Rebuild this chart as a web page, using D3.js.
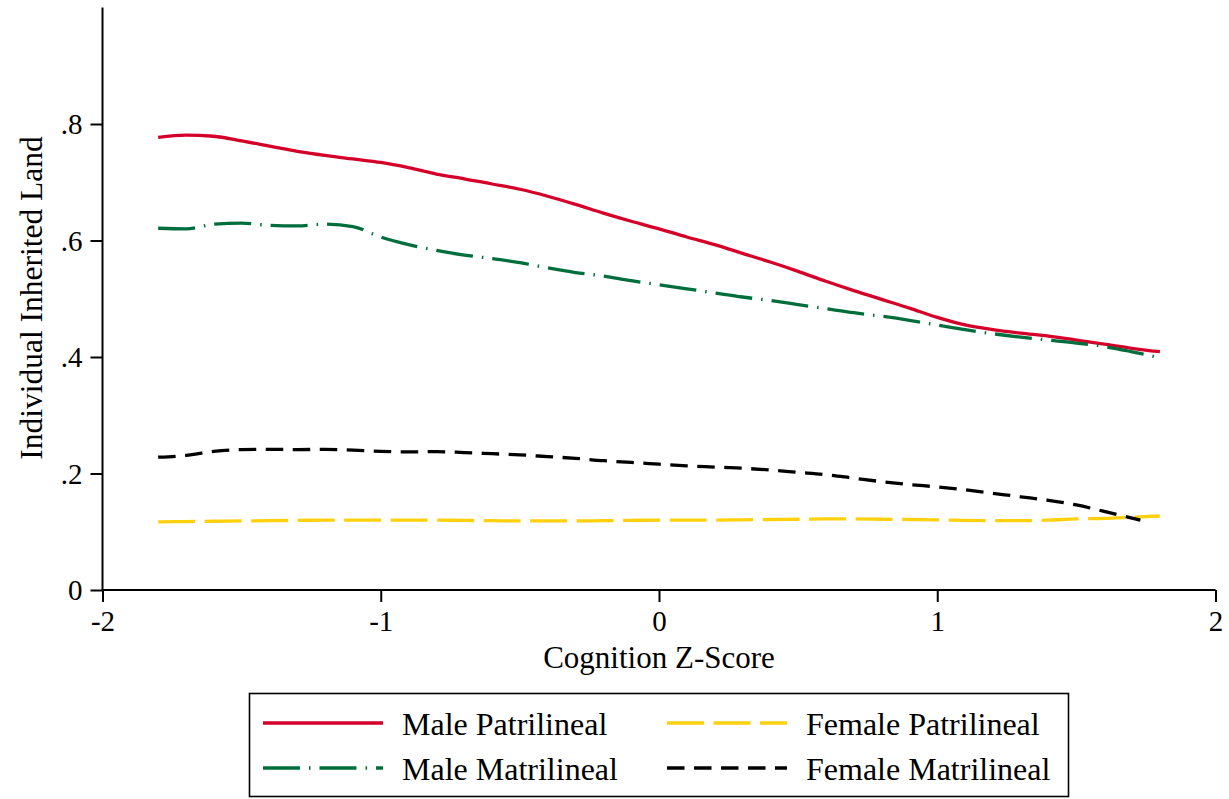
<!DOCTYPE html>
<html>
<head>
<meta charset="utf-8">
<script src="https://cdn.jsdelivr.net/npm/d3@7"></script>
<style>
  html, body { margin: 0; padding: 0; background: #fff; }
  svg { display: block; }
  text { font-family: "Liberation Serif", "Times New Roman", serif; fill: #000; }
</style>
</head>
<body>
<svg id="chart" width="1229" height="799"></svg>
<script>
// ---- Data ----
const zScores = [-1.8,-1.7,-1.6,-1.5,-1.4,-1.3,-1.2,-1.1,-1.0,-0.9,-0.8,-0.7,-0.6,-0.5,-0.4,-0.3,-0.2,-0.1,0,0.1,0.2,0.3,0.4,0.5,0.6,0.7,0.8,0.9,1.0,1.1,1.2,1.3,1.4,1.5,1.6,1.7,1.8];
const malePatrilineal = [0.777,0.781,0.779,0.771,0.762,0.753,0.746,0.740,0.734,0.725,0.714,0.706,0.697,0.688,0.676,0.662,0.647,0.633,0.620,0.606,0.593,0.578,0.563,0.547,0.530,0.514,0.499,0.484,0.468,0.455,0.447,0.441,0.436,0.429,0.422,0.415,0.409];
const maleMatrilinealX = [-1.8,-1.7,-1.6,-1.5,-1.4,-1.3,-1.2,-1.1,-1.0,-0.9,-0.8,-0.7,-0.6,-0.5,-0.4,-0.3,-0.2,-0.1,0,0.1,0.2,0.3,0.4,0.5,0.6,0.7,0.8,0.9,1.0,1.1,1.2,1.3,1.4,1.5,1.6,1.7,1.78];
const maleMatrilineal = [0.621,0.620,0.628,0.630,0.626,0.625,0.628,0.624,0.606,0.593,0.583,0.575,0.569,0.562,0.553,0.545,0.539,0.531,0.524,0.517,0.510,0.503,0.497,0.490,0.483,0.476,0.470,0.463,0.455,0.447,0.440,0.434,0.429,0.424,0.418,0.409,0.401];
const femalePatrilineal = [0.117,0.1175,0.118,0.1185,0.119,0.1195,0.120,0.120,0.120,0.120,0.120,0.1195,0.119,0.1185,0.1185,0.1185,0.119,0.1195,0.120,0.120,0.120,0.1205,0.121,0.1215,0.122,0.122,0.1215,0.121,0.1205,0.1195,0.119,0.119,0.120,0.122,0.123,0.125,0.127];
const femaleMatrilinealX = [-1.8,-1.7,-1.6,-1.5,-1.4,-1.3,-1.2,-1.1,-1.0,-0.9,-0.8,-0.7,-0.6,-0.5,-0.4,-0.3,-0.2,-0.1,0,0.1,0.2,0.3,0.4,0.5,0.6,0.7,0.8,0.9,1.0,1.1,1.2,1.3,1.4,1.5,1.6,1.73];
const femaleMatrilineal = [0.228,0.231,0.238,0.241,0.2415,0.241,0.2415,0.240,0.238,0.237,0.2375,0.236,0.234,0.232,0.229,0.226,0.222,0.219,0.216,0.213,0.211,0.209,0.206,0.202,0.198,0.192,0.186,0.181,0.177,0.172,0.166,0.160,0.154,0.146,0.135,0.120];

const xTicks = [-2,-1,0,1,2];
const yTicks = [0,0.2,0.4,0.6,0.8];
const xTitle = "Cognition Z-Score";
const yTitle = "Individual Inherited Land";

const seriesNames = ["Male Patrilineal","Female Patrilineal","Male Matrilineal","Female Matrilineal"];

// ---- Build series ----
const series = [
  {name: "Male Patrilineal", xs: zScores, ys: malePatrilineal, color: "#d4002a", dash: null},
  {name: "Male Matrilineal", xs: maleMatrilinealX, ys: maleMatrilineal, color: "#006e3c", dash: "37,9,1.5,9"},
  {name: "Female Patrilineal", xs: zScores, ys: femalePatrilineal, color: "#ffd10d", dash: "37,9.5"},
  {name: "Female Matrilineal", xs: femaleMatrilinealX, ys: femaleMatrilineal, color: "#000000", dash: "17.5,9.5"}
];
const byName = Object.fromEntries(series.map(s => [s.name, s]));

const svg = d3.select("#chart");
const x = d3.scaleLinear().domain([-2, 2]).range([102.5, 1215.5]);
const y = d3.scaleLinear().domain([0, 1]).range([590, 7.5]);

// Axes
const xAxis = d3.axisBottom(x).tickValues(xTicks).tickSize(12).tickPadding(6)
  .tickFormat(d => d3.format("d")(d).replace("−", "-"));
const yAxis = d3.axisLeft(y).tickValues(yTicks).tickSize(12).tickPadding(8)
  .tickFormat(d => d === 0 ? "0" : d3.format(".1f")(d).replace(/^0/, ""));

const gx = svg.append("g").attr("transform", "translate(0,590)").call(xAxis);
const gy = svg.append("g").attr("transform", "translate(102.5,0)").call(yAxis);
[gx, gy].forEach(g => {
  g.selectAll("path.domain").attr("stroke", "#000").attr("stroke-width", 2);
  g.selectAll(".tick line").attr("stroke", "#000").attr("stroke-width", 2);
  g.selectAll(".tick text").attr("font-size", 29).attr("font-family", "Liberation Serif").attr("fill", "#000");
});
gx.select("path.domain").attr("d", `M${x(-2)},0H${x(2)}`);
gy.select("path.domain").attr("d", `M0,${y(1)}V${y(0)}`);
gx.selectAll(".tick text").attr("dy", "0.78em");
gy.selectAll(".tick text").attr("dy", "0.34em");

// Titles
svg.append("text").attr("x", 659).attr("y", 668).attr("text-anchor", "middle")
  .attr("font-size", 31).text(xTitle);
svg.append("text").attr("transform", "translate(42,298) rotate(-90)")
  .attr("text-anchor", "middle").attr("font-size", 31.5).text(yTitle);

// Lines
const line = d3.line().curve(d3.curveMonotoneX).x(d => x(d[0])).y(d => y(d[1]));
const drawOrder = ["Female Patrilineal", "Female Matrilineal", "Male Matrilineal", "Male Patrilineal"];
// Draw in Stata order: Male Patrilineal first, then others on top
["Male Patrilineal", "Male Matrilineal", "Female Patrilineal", "Female Matrilineal"].forEach(n => {
  const s = byName[n];
  const pts = s.xs.map((xv, i) => [xv, s.ys[i]]);
  svg.append("path").datum(pts)
    .attr("d", line)
    .attr("fill", "none")
    .attr("stroke", s.color)
    .attr("stroke-width", 3.3)
    .attr("stroke-linecap", "butt")
    .attr("stroke-linejoin", "round")
    .attr("stroke-dasharray", s.dash);
});

// Legend
const lg = svg.append("g");
lg.append("rect").attr("x", 249.5).attr("y", 693.5).attr("width", 819).attr("height", 103)
  .attr("fill", "#fff").attr("stroke", "#000").attr("stroke-width", 1.6);
const cols = [263, 667];
const rows = [723, 768];
seriesNames.forEach((n, i) => {
  const s = byName[n];
  const cx = cols[i % 2], cy = rows[Math.floor(i / 2)];
  lg.append("line").attr("x1", cx).attr("x2", cx + 120).attr("y1", cy).attr("y2", cy)
    .attr("stroke", s.color).attr("stroke-width", 3.3).attr("stroke-dasharray", s.dash);
  lg.append("text").attr("x", cx + 139).attr("y", cy + 12).attr("font-size", 32).text(n);
});
</script>
</body>
</html>
